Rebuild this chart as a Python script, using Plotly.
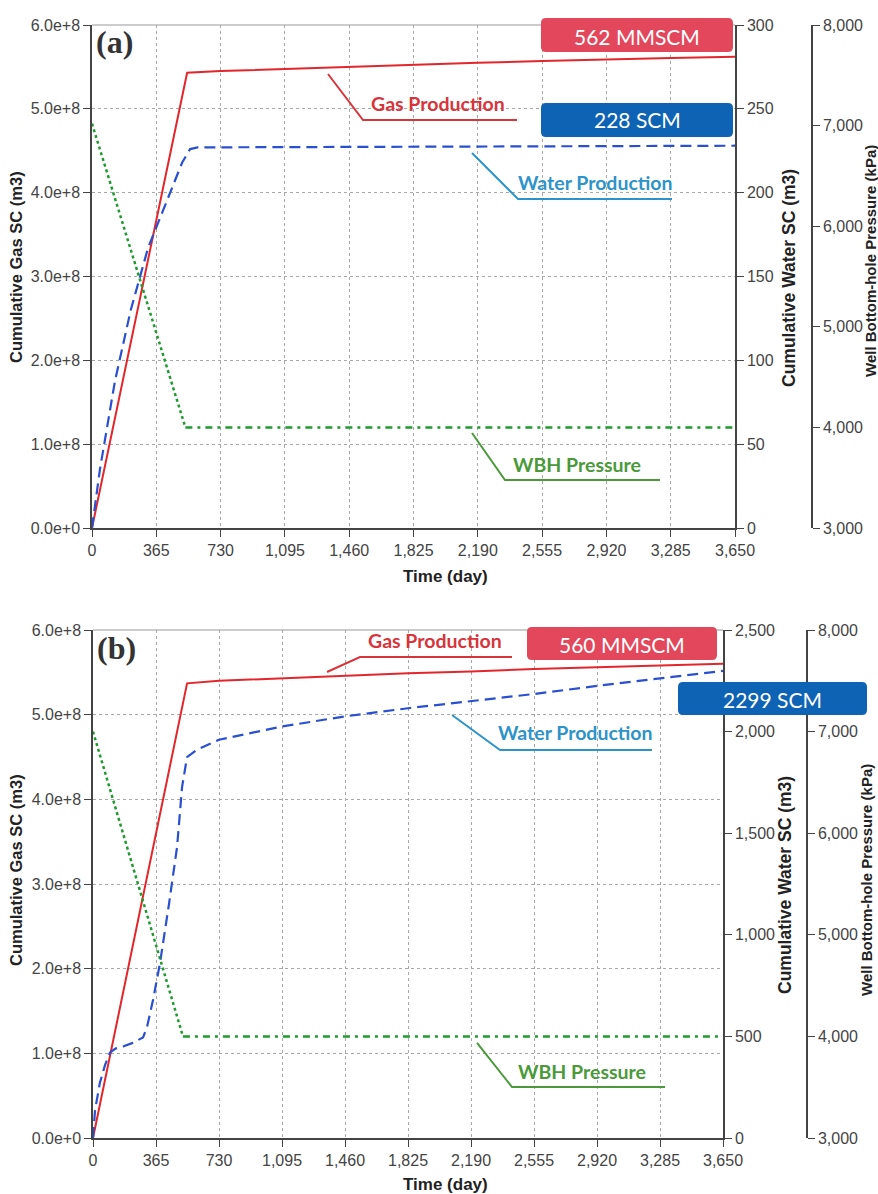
import plotly.graph_objects as go

W, H = 878, 1194

# ---------------- data ----------------
xticks = [0, 365, 730, 1095, 1460, 1825, 2190, 2555, 2920, 3285, 3650]

# panel (a)
gas_a_t = [0, 540, 730, 1095, 1460, 1825, 2190, 2555, 2920, 3285, 3650]
gas_a = [0, 5.43e8, 5.45e8, 5.475e8, 5.50e8, 5.53e8, 5.55e8, 5.57e8, 5.59e8, 5.605e8, 5.62e8]
water_a_t = [0, 28, 45, 131, 220, 318, 426, 512, 557, 600, 3650]
water_a = [0, 23, 35, 88, 130, 167, 196, 218, 226, 227, 228]
press_a_t = [0, 530, 3650]
press_a = [7020, 4000, 4000]

# panel (b)
gas_b_t = [0, 545, 730, 1095, 1460, 1825, 2190, 2555, 2920, 3285, 3650]
gas_b = [0, 5.37e8, 5.40e8, 5.43e8, 5.46e8, 5.49e8, 5.51e8, 5.54e8, 5.56e8, 5.58e8, 5.60e8]
water_b_t = [0, 12, 40, 70, 98, 130, 174, 230, 290, 313, 348, 388, 440, 487, 516, 545, 600,
             730, 1095, 1460, 1825, 2190, 2555, 2920, 3285, 3650]
water_b = [0, 138, 272, 360, 420, 440, 450, 468, 495, 546, 680, 860, 1150, 1432, 1727, 1875, 1910,
           1960, 2025, 2075, 2115, 2150, 2185, 2225, 2262, 2299]
press_b_t = [0, 521, 3650]
press_b = [7000, 4000, 4000]

# ---------------- styles ----------------
RED = "#E3262C"
BLUE = "#2A4FD0"
GREEN = "#1F9A2E"
AX = "#444444"
GRID = "#A8A8A8"
TICKFONT = dict(family="Liberation Sans, Arial", size=16, color="#444444")


def P(x, y):
    return x / W, 1 - y / H


fig = go.Figure()

# panel (a) traces
fig.add_trace(go.Scatter(x=gas_a_t, y=gas_a, mode="lines", line=dict(color=RED, width=2),
                         xaxis="x", yaxis="y", name="Gas"))
fig.add_trace(go.Scatter(x=water_a_t, y=water_a, mode="lines",
                         line=dict(color=BLUE, width=2.2, dash="11px,6px"),
                         xaxis="x", yaxis="y2", name="Water"))
fig.add_trace(go.Scatter(x=press_a_t[:2], y=press_a[:2], mode="lines",
                         line=dict(color=GREEN, width=2.5, dash="3px,3px"),
                         xaxis="x", yaxis="y3", name="WBH"))
fig.add_trace(go.Scatter(x=press_a_t[1:], y=press_a[1:], mode="lines",
                         line=dict(color=GREEN, width=2.5, dash="7px,5px,3px,5px"),
                         xaxis="x", yaxis="y3", name="WBH2"))

# panel (b) traces
fig.add_trace(go.Scatter(x=gas_b_t, y=gas_b, mode="lines", line=dict(color=RED, width=2),
                         xaxis="x2", yaxis="y4", name="Gas b"))
fig.add_trace(go.Scatter(x=water_b_t, y=water_b, mode="lines",
                         line=dict(color=BLUE, width=2.2, dash="11px,6px"),
                         xaxis="x2", yaxis="y5", name="Water b"))
fig.add_trace(go.Scatter(x=press_b_t[:2], y=press_b[:2], mode="lines",
                         line=dict(color=GREEN, width=2.5, dash="3px,3px"),
                         xaxis="x2", yaxis="y6", name="WBH b"))
fig.add_trace(go.Scatter(x=press_b_t[1:], y=press_b[1:], mode="lines",
                         line=dict(color=GREEN, width=2.5, dash="7px,5px,3px,5px"),
                         xaxis="x2", yaxis="y6", name="WBH b2"))

common_x = dict(range=[0, 3650], tickmode="array", tickvals=xticks, tickformat=",d",
                ticks="outside", ticklen=7, tickcolor=AX, showline=True, linecolor=AX,
                linewidth=1.5, showgrid=True, gridcolor=GRID, griddash="dot", gridwidth=1,
                zeroline=False, tickfont=TICKFONT, automargin=False)
common_y = dict(ticks="outside", ticklen=7, tickcolor=AX, showline=True, linecolor=AX,
                linewidth=1.5, zeroline=False, tickfont=TICKFONT, automargin=False)

ya_dom = [1 - 528 / H, 1 - 25 / H]
yb_dom = [1 - 1138 / H, 1 - 630 / H]

fig.update_layout(
    width=W, height=H, margin=dict(l=0, r=0, t=0, b=0, autoexpand=False),
    paper_bgcolor="white", plot_bgcolor="white", showlegend=False,
    xaxis=dict(domain=[92 / W, 735 / W], anchor="y", **common_x),
    yaxis=dict(domain=ya_dom, anchor="x", range=[0, 6e8], dtick=1e8, tickformat=".1e",
               showgrid=True, gridcolor=GRID, griddash="dot", **common_y),
    yaxis2=dict(overlaying="y", side="right", anchor="x", range=[0, 300], dtick=50,
                showgrid=False, **common_y),
    yaxis3=dict(overlaying="y", side="right", anchor="free", position=812 / W,
                range=[3000, 8000], dtick=1000, tickformat=",d", showgrid=False, **common_y),
    xaxis2=dict(domain=[93 / W, 723 / W], anchor="y4", **common_x),
    yaxis4=dict(domain=yb_dom, anchor="x2", range=[0, 6e8], dtick=1e8, tickformat=".1e",
                showgrid=True, gridcolor=GRID, griddash="dot", **common_y),
    yaxis5=dict(overlaying="y4", side="right", anchor="x2", range=[0, 2500], dtick=500,
                tickformat=",d", showgrid=False, **common_y),
    yaxis6=dict(overlaying="y4", side="right", anchor="free", position=807 / W,
                range=[3000, 8000], dtick=1000, tickformat=",d", showgrid=False, **common_y),
)

shapes = []
annotations = []

# top borders
for xr, yr in (("x domain", "y domain"), ("x2 domain", "y4 domain")):
    shapes.append(dict(type="line", xref=xr, yref=yr, x0=0, x1=1, y0=1, y1=1,
                       line=dict(color="#999999", width=1.2), layer="above"))


def rrect(x0, y0, x1, y1, r, color):
    def p(x, y):
        a, b = P(x, y)
        return f"{a:.5f},{b:.5f}"
    path = (f"M {p(x0 + r, y0)} L {p(x1 - r, y0)} Q {p(x1, y0)} {p(x1, y0 + r)} "
            f"L {p(x1, y1 - r)} Q {p(x1, y1)} {p(x1 - r, y1)} L {p(x0 + r, y1)} "
            f"Q {p(x0, y1)} {p(x0, y1 - r)} L {p(x0, y0 + r)} Q {p(x0, y0)} {p(x0 + r, y0)} Z")
    shapes.append(dict(type="path", xref="paper", yref="paper", path=path,
                       fillcolor=color, line=dict(width=0), layer="above"))


def polyline(pts, color):
    segs = []
    for i, (x, y) in enumerate(pts):
        a, b = P(x, y)
        segs.append(("M " if i == 0 else "L ") + f"{a:.5f},{b:.5f}")
    shapes.append(dict(type="path", xref="paper", yref="paper", path=" ".join(segs),
                       line=dict(color=color, width=2), layer="above"))


def text(x, y, s, font, angle=0):
    a, b = P(x, y)
    annotations.append(dict(x=a, y=b, xref="paper", yref="paper", text=s, showarrow=False,
                            xanchor="center", yanchor="middle", textangle=angle, font=font))


BOXRED = "#E2475C"
BOXBLUE = "#0E63B5"
boxfont = dict(family="Lato, Open Sans", size=21, color="white")
CRED = "#D8343C"
CBLUE = "#2E93C9"
CGREEN = "#4A9A3A"
cf = dict(family="Lato", size=19.5, weight=700)

# panel (a) callouts
rrect(541, 18, 733, 52, 5, BOXRED)
text(637, 36, "562 MMSCM", boxfont)
rrect(541, 103, 733, 137, 5, BOXBLUE)
text(637, 120, "228 SCM", boxfont)
polyline([(328, 74), (363, 120), (517, 120)], CRED)
text(438, 104, "Gas Production", dict(cf, color=CRED))
polyline([(472, 153), (518, 199), (672, 199)], CBLUE)
text(595, 182, "Water Production", dict(cf, color=CBLUE))
polyline([(472, 433), (505, 480), (660, 480)], CGREEN)
text(577, 464, "WBH Pressure", dict(cf, color=CGREEN))

# panel (b) callouts
rrect(527, 627, 717, 660, 5, BOXRED)
text(622, 644, "560 MMSCM", boxfont)
rrect(678, 682, 867, 715, 5, BOXBLUE)
text(772, 699, "2299 SCM", boxfont)
polyline([(327, 672), (360, 657), (512, 657)], CRED)
text(435, 640, "Gas Production", dict(cf, color=CRED))
polyline([(452, 715), (500, 750), (652, 750)], CBLUE)
text(575, 732, "Water Production", dict(cf, color=CBLUE))
polyline([(477, 1043), (512, 1087), (665, 1087)], CGREEN)
text(582, 1071, "WBH Pressure", dict(cf, color=CGREEN))

# panel labels
labfont = dict(family="Liberation Serif, Times New Roman", size=32, color="#333333", weight=700)
text(114, 42, "(a)", labfont)
text(116, 648, "(b)", labfont)

# axis titles
tf = dict(family="Liberation Sans, Arial", size=17, color="#222222", weight=700)
text(445, 576, "Time (day)", tf)
text(445, 1184, "Time (day)", tf)
text(16, 267, "Cumulative Gas SC (m3)", dict(tf, size=16.5), -90)
text(16, 870, "Cumulative Gas SC (m3)", dict(tf, size=16.5), -90)
text(789, 278, "Cumulative Water SC (m3)", dict(tf, size=17.5), -90)
text(785, 885, "Cumulative Water SC (m3)", dict(tf, size=17.5), -90)
text(870, 261, "Well Bottom-hole Pressure (kPa)", dict(tf, size=15), -90)
text(866, 880, "Well Bottom-hole Pressure (kPa)", dict(tf, size=15), -90)

fig.update_layout(shapes=shapes, annotations=annotations)
fig.write_html("out.html")
